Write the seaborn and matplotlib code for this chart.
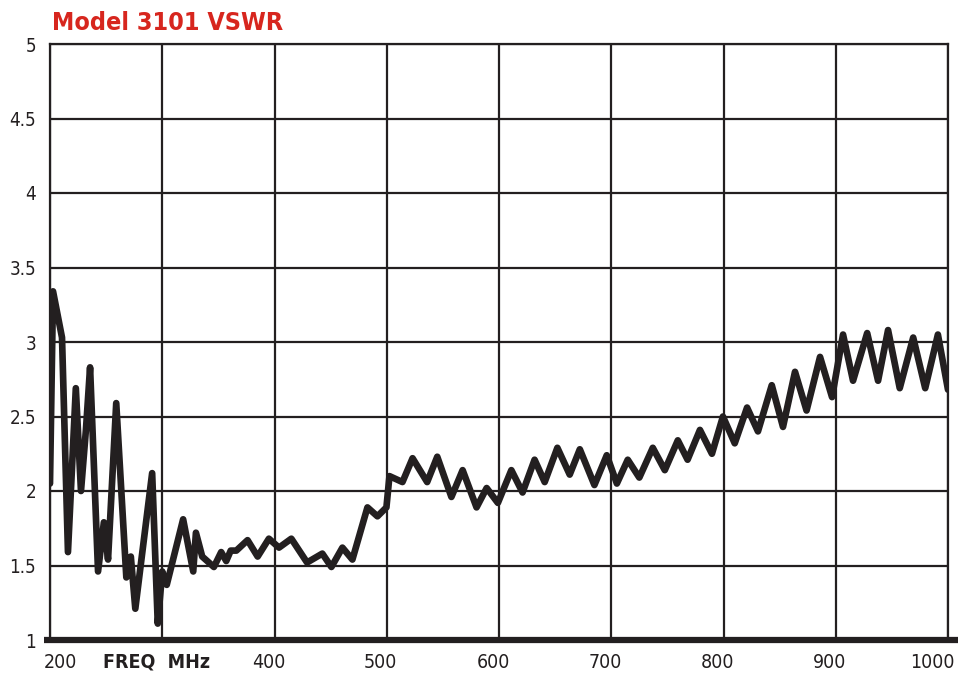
import matplotlib
matplotlib.use("Agg")
import matplotlib.pyplot as plt
from matplotlib.lines import Line2D
from matplotlib.transforms import ScaledTranslation
import pandas as pd
import seaborn as sns

# VSWR curve
freq_mhz = [200, 202.7, 210.7, 216, 223, 227.6, 232, 235.7, 242.8, 248, 251.7,
            259, 268, 272, 276, 291, 296, 300, 304, 318.6, 327.6, 330, 335.6,
            346, 352.5, 357, 361, 366, 376, 385, 395, 404, 415, 429, 442.6,
            450.7, 460.5, 469.4, 482.8, 491.7, 499.7, 502.4, 514, 523, 536,
            545, 557.6, 567.6, 580, 589, 599, 611, 621, 631.7, 640.7, 652, 663,
            672, 685, 696, 705, 714.7, 725, 737, 747.7, 759.3, 768, 779, 789.7,
            799.5, 810, 821, 830.7, 843, 853, 863.7, 874, 886, 896.7, 906.5,
            915.4, 928, 937.7, 946.6, 957, 969, 979.7, 991, 1000]
vswr = [2.05, 3.34, 3.03, 1.59, 2.69, 2.00, 2.41, 2.83, 1.46, 1.79, 1.54,
        2.59, 1.42, 1.56, 1.21, 2.12, 1.11, 1.46, 1.37, 1.81, 1.46, 1.72, 1.56,
        1.49, 1.59, 1.53, 1.60, 1.60, 1.67, 1.56, 1.68, 1.62, 1.68, 1.52, 1.58,
        1.49, 1.62, 1.54, 1.89, 1.83, 1.89, 2.10, 2.06, 2.22, 2.06,
        2.23, 1.96, 2.14, 1.89, 2.02, 1.92, 2.14, 1.99, 2.21, 2.06, 2.29, 2.11,
        2.28, 2.04, 2.24, 2.05, 2.21, 2.09, 2.29, 2.14, 2.34, 2.21, 2.41, 2.25,
        2.50, 2.32, 2.56, 2.40, 2.71, 2.43, 2.80, 2.54, 2.90, 2.63, 3.05,
        2.74, 3.06, 2.74, 3.08, 2.69, 3.03, 2.69, 3.05, 2.68]

x_ticks = [200, 300, 400, 500, 600, 700, 800, 900, 1000]
x_labels = ["200", "FREQ  MHz", "400", "500", "600", "700", "800", "900", "1000"]
y_ticks = [1, 1.5, 2, 2.5, 3, 3.5, 4, 4.5, 5]
y_labels = ["1", "1.5", "2", "2.5", "3", "3.5", "4", "4.5", "5"]

ink = "#231f20"

sns.set_style("white")
plt.rcParams["font.family"] = ["DejaVu Sans"]
plt.rcParams["font.stretch"] = "condensed"

df = pd.DataFrame({"freq": freq_mhz, "vswr": vswr})

fig = plt.figure(figsize=(9.61, 6.8), dpi=100)
ax = fig.add_axes([50 / 961, 40 / 680, 898 / 961, 596 / 680])

sns.lineplot(data=df, x="freq", y="vswr", ax=ax, sort=False, estimator=None,
             color=ink, linewidth=4.8, zorder=3)
for ln in ax.lines:
    ln.set_solid_joinstyle("round")
    ln.set_solid_capstyle("round")

ax.set_xlim(200, 1000)
ax.set_ylim(1, 5)
ax.set_xticks(x_ticks)
ax.set_xticklabels(x_labels, fontsize=14)
ax.set_yticks(y_ticks)
ax.set_yticklabels(y_labels, fontsize=13.5)
ax.set_xlabel("")
ax.set_ylabel("")
ax.tick_params(axis="x", length=0, pad=9, colors=ink)
ax.tick_params(axis="y", length=0, pad=10, colors=ink)

# nudge the x labels the way the printed sheet has them
xl = ax.get_xticklabels()
xl[1].set_fontweight("bold")
xl[1].set_transform(xl[1].get_transform() + ScaledTranslation(-6 / 100, 0, fig.dpi_scale_trans))
xl[0].set_transform(xl[0].get_transform() + ScaledTranslation(10 / 100, 0, fig.dpi_scale_trans))
xl[-1].set_transform(xl[-1].get_transform() + ScaledTranslation(-16 / 100, 0, fig.dpi_scale_trans))
for lbl in xl[2:-1]:
    lbl.set_transform(lbl.get_transform() + ScaledTranslation(-6 / 100, 0, fig.dpi_scale_trans))

ax.grid(True, color=ink, linewidth=1.6)
for side in ["left", "right", "top"]:
    ax.spines[side].set_color(ink)
    ax.spines[side].set_linewidth(1.6)
ax.spines["bottom"].set_visible(False)

# heavy base line that runs a little past the plot frame
fig.add_artist(Line2D([44 / 961, 958 / 961], [40 / 680, 40 / 680],
                      color=ink, linewidth=4.5, solid_capstyle="butt"))

fig.text(52 / 961, 1 - 23 / 680, "Model 3101 VSWR", color="#d7261e",
         fontsize=18, fontweight="bold", va="center", ha="left")

fig.savefig("out.png", dpi=100)
plt.close(fig)
